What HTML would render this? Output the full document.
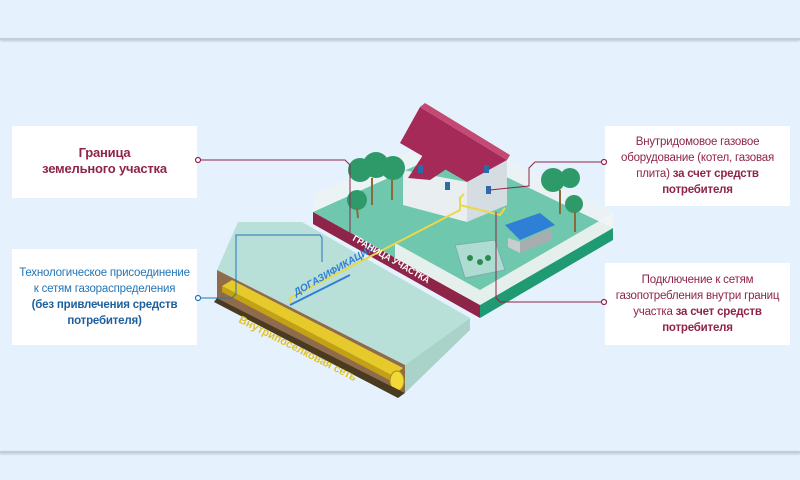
<!DOCTYPE html>
<html><head><meta charset="utf-8"><style>
html,body{margin:0;padding:0;width:800px;height:480px;overflow:hidden;background:#e5f2fd;font-family:"Liberation Sans","DejaVu Sans",sans-serif}
.line{position:absolute;left:0;width:800px;height:2px;background:#c4ced8;box-shadow:0 1px 2px #b8c2cc}
.box{position:absolute;background:#fff;text-align:center;font-size:11.5px;line-height:16px;box-sizing:border-box;white-space:nowrap;letter-spacing:-0.2px}
.m{color:#8e2447}.b{color:#2376b7}
</style></head><body>
<div class="line" style="top:38px"></div>
<div class="line" style="top:451px"></div>
<div class="box m" style="left:12px;top:126px;width:185px;height:72px;padding-top:19px;font-weight:bold;font-size:13px">Граница<br>земельного участка</div>
<div class="box b" style="left:12px;top:249px;width:185px;height:96px;padding-top:16px">Технологическое присоединение<br>к сетям газораспределения<br><b style="color:#1d5f9c">(без привлечения средств<br>потребителя)</b></div>
<div class="box m" style="left:605px;top:126px;width:185px;height:80px;padding-top:8px">Внутридомовое газовое<br>оборудование (котел, газовая<br>плита) <b>за счет средств</b><br><b>потребителя</b></div>
<div class="box m" style="left:605px;top:263px;width:185px;height:82px;padding-top:9px">Подключение к сетям<br>газопотребления внутри границ<br>участка <b>за счет средств</b><br><b>потребителя</b></div>
<svg width="800" height="480" style="position:absolute;left:0;top:0">
<!-- plot -->
<polygon points="313,212 450,150 613,228 480,305" fill="#6fc7ae"/>
<polygon points="313,212 480,305 480,318 313,224" fill="#8e2447"/>
<polygon points="480,305 613,228 613,240 480,318" fill="#1f9a72"/>
<!-- fences -->
<polygon points="313,212 313,195 450,133 450,150" fill="#eef2f2" opacity=".8"/>
<polygon points="450,150 450,133 613,211 613,228" fill="#eef2f2" opacity=".6"/>
<polygon points="395,258 395,243 480,290 480,305" fill="#f2f4f4" opacity=".9"/>
<polygon points="480,305 480,290 613,213 613,228" fill="#f2f4f4" opacity=".9"/>
<!-- road slab -->
<polygon points="217,270 238,222 302,222 470,318 405,365" fill="#b9e0d8"/>
<polygon points="217,270 405,365 405,393 217,298" fill="#8f6b4c"/>
<polygon points="405,365 470,318 470,330 405,393" fill="#a9d3c8"/>
<!-- pipe -->
<polygon points="222,286 232,280 403,368 393,376" fill="#e6c92a"/>
<polygon points="222,292 393,382 393,376 222,286" fill="#c2a116"/>
<ellipse cx="397" cy="381" rx="7" ry="10" fill="#f2d93a" stroke="#a88a10"/>
<polygon points="217,298 405,393 398,398 214,302" fill="#4a3a20"/>
<text x="238" y="322" fill="#e0c22c" font-size="11" font-weight="bold" transform="rotate(27 238 322)">Внутрипоселковая сеть</text>
<!-- house -->
<polygon points="403,170 467,182 467,222 403,205" fill="#e9eef0"/>
<polygon points="467,182 507,160 507,205 467,222" fill="#d6dde2"/>
<polygon points="400,143 420,107 507,160 467,182" fill="#a52a57"/>
<polygon points="420,107 507,160 510,155 425,103" fill="#c44a74"/>
<polygon points="408,178 425,152 448,168 430,180" fill="#a52a57"/>
<rect x="484" y="165" width="5" height="8" fill="#2c6aa8"/><rect x="486" y="186" width="5" height="8" fill="#2c6aa8"/>
<rect x="418" y="165" width="5" height="8" fill="#2c6aa8"/><rect x="445" y="182" width="5" height="8" fill="#2c6aa8"/>
<!-- shed -->
<polygon points="505,225 540,213 555,225 520,240" fill="#2f7fd6"/>
<polygon points="508,238 520,242 520,253 508,247" fill="#c8cdd0"/>
<polygon points="520,242 552,228 552,240 520,253" fill="#a8adb0"/>
<!-- greenhouse -->
<polygon points="455,245 495,240 505,270 465,278" fill="#bfe2dc" stroke="#7aa" opacity=".8"/>
<g fill="#2c8a4e"><circle cx="470" cy="258" r="3"/><circle cx="480" cy="262" r="3"/><circle cx="488" cy="258" r="3"/></g>
<!-- trees -->
<g fill="#2e9a6a"><circle cx="360" cy="170" r="12"/><circle cx="376" cy="165" r="13"/><circle cx="393" cy="168" r="12"/><circle cx="357" cy="200" r="10"/><circle cx="553" cy="180" r="12"/><circle cx="570" cy="178" r="10"/><circle cx="574" cy="204" r="9"/></g>
<g stroke="#8a6a3a" stroke-width="2"><line x1="372" y1="178" x2="372" y2="205"/><line x1="392" y1="180" x2="392" y2="200"/><line x1="357" y1="208" x2="358" y2="218"/><line x1="560" y1="190" x2="560" y2="214"/><line x1="575" y1="212" x2="575" y2="232"/></g>
<!-- gas lines -->
<polyline points="290,303 290,298 460,210 460,198 464,194" fill="none" stroke="#e8d84a" stroke-width="2"/>
<polyline points="460,205 500,215 505,208" fill="none" stroke="#e8d84a" stroke-width="2"/>
<polyline points="290,305 300,300 350,275" fill="none" stroke="#2f7fd6" stroke-width="2"/>
<text x="296" y="296" fill="#2f7fd6" font-size="10" font-weight="bold" font-style="italic" transform="rotate(-30 296 296)">ДОГАЗИФИКАЦИЯ</text>
<text x="352" y="240" fill="#fff" font-size="9" font-weight="bold" transform="rotate(30 352 240)">ГРАНИЦА УЧАСТКА</text>
<!-- connectors -->
<g fill="none" stroke-width="1">
<polyline points="198,160 345,160 350,165 350,240" stroke="#8e2447"/>
<polyline points="198,298 232,298 236,294 236,235 320,235 322,238 322,262" stroke="#2376b7"/>
<polyline points="604,162 535,162 529,168 529,186 490,190" stroke="#8e2447"/>
<polyline points="604,302 500,302 496,298 496,212" stroke="#8e2447"/>
</g>
<g fill="#fff" stroke-width="1.2"><circle cx="198" cy="160" r="2.5" stroke="#8e2447"/><circle cx="198" cy="298" r="2.5" stroke="#2376b7"/><circle cx="604" cy="162" r="2.5" stroke="#8e2447"/><circle cx="604" cy="302" r="2.5" stroke="#8e2447"/></g>
</svg>
</body></html>
